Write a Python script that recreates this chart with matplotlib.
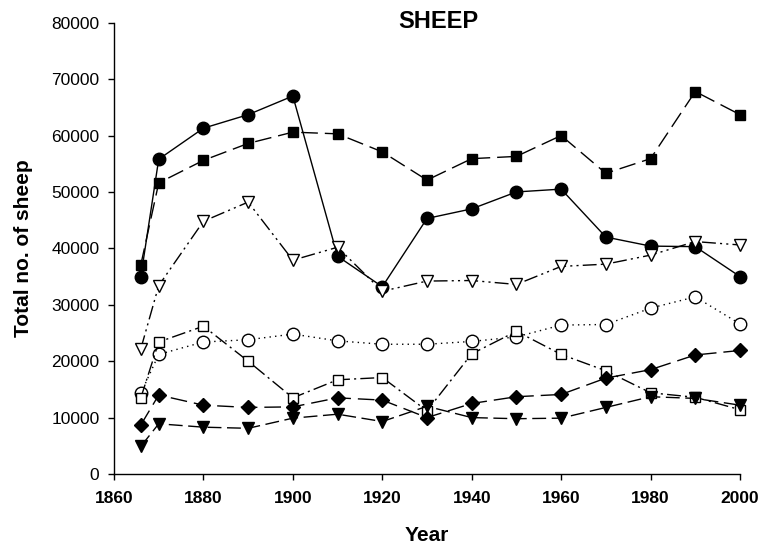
import numpy as np
import matplotlib
matplotlib.use("Agg")
import matplotlib.pyplot as plt

plt.rcParams['font.family'] = ['Liberation Sans', 'DejaVu Sans']

years = [1866, 1870, 1880, 1890, 1900, 1910, 1920, 1930, 1940, 1950, 1960, 1970, 1980, 1990, 2000]

filled_circle = [35000, 55800, 61300, 63700, 67000, 38600, 33200, 45300, 47000, 50000, 50500, 42000, 40400, 40300, 35000]
filled_square = [37100, 51600, 55600, 58600, 60600, 60300, 57100, 52100, 55900, 56300, 60000, 53300, 55900, 67800, 63700]
open_tri = [22200, 33400, 44800, 48200, 37900, 40200, 32400, 34200, 34300, 33600, 36800, 37200, 38800, 41200, 40600]
open_circle = [14300, 21200, 23400, 23800, 24800, 23600, 23000, 23000, 23500, 24300, 26400, 26500, 29400, 31400, 26600]
open_square = [13500, 23400, 26200, 20000, 13500, 16700, 17100, 11200, 21300, 25300, 21200, 18300, 14400, 13600, 11400]
diamond = [8700, 14000, 12200, 11800, 11900, 13500, 13100, 10000, 12500, 13700, 14100, 17000, 18500, 21100, 21900]
filled_tri = [4900, 8900, 8300, 8100, 9900, 10600, 9300, 12000, 10000, 9800, 9900, 11800, 13700, 13400, 12200]

fig = plt.figure(figsize=(7.63, 5.51), dpi=100)
ax = fig.add_axes([114/763, 1 - 474/551, 626/763, 451.3/551])

lw = 1.0
# (values, marker, face colour, marker size, dash pattern)
series = [
    (filled_circle, 'o', 'black', 9.0, (0, ())),
    (filled_square, 's', 'black', 7.6, (0, (12, 5))),
    (open_tri, 'v', 'white', 8.2, (0, (10, 3, 1.5, 3, 1.5, 3))),
    (open_circle, 'o', 'white', 9.0, (0, (1, 3))),
    (open_square, 's', 'white', 7.6, (0, (10, 3, 1.5, 3))),
    (diamond, 'D', 'black', 7.4, (0, (12, 5))),
    (filled_tri, 'v', 'black', 8.4, (0, (10, 4))),
]
for vals, m, fc, ms, ls in series:
    ax.plot(years, vals, color='black', lw=lw, linestyle=ls, marker=m,
            markersize=ms, markerfacecolor=fc, markeredgecolor='black',
            markeredgewidth=1.0, clip_on=False)

ax.set_xlim(1860, 2000)
ax.set_ylim(0, 80000)
ax.set_xticks(np.arange(1860, 2001, 20))
ax.set_yticks(np.arange(0, 80001, 10000))
for s in ['top', 'right']:
    ax.spines[s].set_visible(False)
for s in ['left', 'bottom']:
    ax.spines[s].set_linewidth(1.0)
ax.tick_params(direction='out', length=4.5, width=1.0, labelsize=12.5)
ax.tick_params(axis='y', pad=6)
ax.tick_params(axis='x', pad=8)
for lbl in ax.get_xticklabels():
    lbl.set_fontweight('bold')

ax.set_xlabel('Year', fontsize=15, fontweight='bold')
ax.xaxis.set_label_coords(0.5, -0.115)
ax.set_ylabel('Total no. of sheep', fontsize=15, fontweight='bold')
ax.yaxis.set_label_coords(-0.13, 0.5)

fig.text(438/763, 1 - 22/551, 'SHEEP', fontsize=17, fontweight='bold',
         ha='center', va='center')

fig.savefig('out.png', dpi=100)
